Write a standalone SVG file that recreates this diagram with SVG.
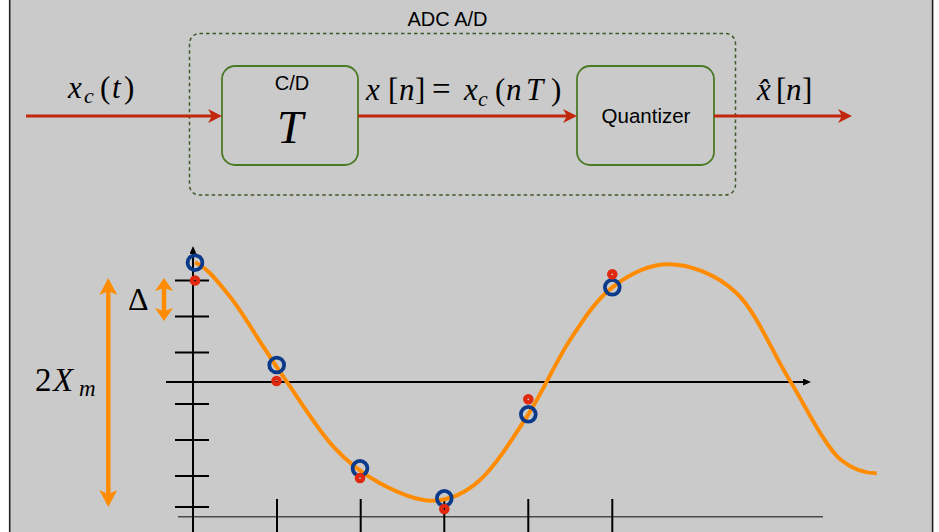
<svg xmlns="http://www.w3.org/2000/svg" width="939" height="532" viewBox="0 0 939 532">
<style>
.sans{font-family:"Liberation Sans",Arial,sans-serif;fill:#000}
.m{font-family:"Liberation Serif","DejaVu Serif",serif;fill:#000}
.i{font-style:italic}
.box{fill:none;stroke:#4a7a25;stroke-width:1.8}
.wire{stroke:#c2260c;stroke-width:3;fill:none}
.tick{stroke:#000;stroke-width:2;fill:none}
.blue{fill:none;stroke:#0b3a8a;stroke-width:3.8}
.red{fill:none;stroke:#e0280f;stroke-width:4.4}
.org{stroke:#ff8c00;stroke-width:4.5;fill:none}
</style>
<defs>
<marker id="ra" viewBox="0 0 14 14" refX="4" refY="7" markerWidth="14" markerHeight="14" markerUnits="userSpaceOnUse" orient="auto"><path d="M0,0 L14,7 L0,14 L4,7 Z" fill="#c2260c"/></marker>
<marker id="ka" viewBox="0 0 8 7" refX="2" refY="3.5" markerWidth="8" markerHeight="7" markerUnits="userSpaceOnUse" orient="auto"><path d="M0,0 L8,3.5 L0,7 Z" fill="#000"/></marker>
<marker id="oa" viewBox="0 0 17 18" refX="4" refY="9" markerWidth="17" markerHeight="18" markerUnits="userSpaceOnUse" orient="auto-start-reverse"><path d="M0,0 L17,9 L0,18 L4,9 Z" fill="#ff8c00"/></marker>
<marker id="ob" viewBox="0 0 13 18" refX="3" refY="9" markerWidth="13" markerHeight="18" markerUnits="userSpaceOnUse" orient="auto-start-reverse"><path d="M0,0 L13,9 L0,18 L3,9 Z" fill="#ff8c00"/></marker>
</defs>
<rect x="9.5" y="-2" width="923" height="536" fill="#cacaca"/>
<line x1="9.7" y1="0" x2="9.7" y2="532" stroke="#222" stroke-width="1.6"/>
<line x1="932.6" y1="0" x2="932.6" y2="532" stroke="#222" stroke-width="1.6"/>

<g id="adc">
<rect x="189.5" y="33.5" width="546" height="161.5" rx="10" fill="none" stroke="#3f5a28" stroke-width="1.5" stroke-dasharray="3.5,3"/>
<text class="sans" x="447.5" y="26" font-size="20" text-anchor="middle">ADC A/D</text>
</g>
<g id="cd">
<rect class="box" x="222" y="66" width="136" height="99" rx="13"/>
<text class="sans" x="292" y="90" font-size="20" text-anchor="middle">C/D</text>
<text class="m i" x="290" y="143" font-size="47" text-anchor="middle">T</text>
</g>
<g id="quantizer">
<rect class="box" x="577" y="66" width="137" height="99" rx="13"/>
<text class="sans" x="646" y="123" font-size="20.5" text-anchor="middle">Quantizer</text>
</g>

<g id="connectors">
<line class="wire" x1="26" y1="116" x2="212" y2="116" marker-end="url(#ra)"/>
<line class="wire" x1="358" y1="116" x2="567" y2="116" marker-end="url(#ra)"/>
<line class="wire" x1="714" y1="116" x2="842" y2="116" marker-end="url(#ra)"/>
</g>

<g id="labels">
<text class="m" y="98" font-size="31"><tspan x="68" class="i">x</tspan><tspan x="84" dy="5" font-size="22" class="i">c</tspan><tspan x="100" dy="-5">(</tspan><tspan x="112" class="i">t</tspan><tspan x="124">)</tspan></text>
<text class="m" y="100" font-size="31"><tspan x="366" class="i">x</tspan><tspan x="388">[</tspan><tspan x="399" class="i">n</tspan><tspan x="415">]</tspan><tspan x="432" font-size="33">=</tspan><tspan x="464" class="i">x</tspan><tspan x="478" dy="6" font-size="22" class="i">c</tspan><tspan x="495" dy="-6">(</tspan><tspan x="506" class="i">n</tspan><tspan x="526" class="i">T</tspan><tspan x="551">)</tspan></text>
<text class="m" y="100" font-size="31"><tspan x="757" class="i">x̂</tspan><tspan x="776">[</tspan><tspan x="786" class="i">n</tspan><tspan x="802">]</tspan></text>
</g>

<g id="plot">
<line x1="178" y1="516.7" x2="823" y2="516.7" stroke="#4a4a4a" stroke-width="1.4"/>
<line class="tick" x1="193" y1="532" x2="193" y2="252" marker-end="url(#ka)"/>
<line x1="166" y1="382" x2="805" y2="382" stroke="#000" stroke-width="1.8" marker-end="url(#ka)"/>
<path class="tick" d="M175,280.5H209M175,316.5H209M175,352.5H209M175,404H209M175,440H209M175,476H209M175,507H209"/>
<path class="tick" d="M277,499V532M360.7,499V532M444.3,499V532M528.3,499V532M612.3,499V532"/>
<path d="M195,262.5 C207,267 218.6,282.7 230,296.7 C241.4,310.7 253.85,332.5 263.3,346.7 C272.75,360.9 275,365 286.7,381.7 C298.4,398.4 317.75,429.8 333.3,446.7 C348.85,463.6 363.3,474.3 380,483.3 C396.7,492.3 416.6,501.25 433.3,500.7 C450,500.15 464.2,494.4 480,480 C495.8,465.6 513.3,437.6 528.3,414.3 C543.3,391 556,361.2 570,340 C584,318.8 595.9,299.9 612.3,287.3 C628.7,274.7 647.6,264.3 668.3,264.3 C689,264.3 716.3,273.7 736.7,293.3 C757.1,312.9 772.9,353.7 790.7,382 C806,407 826,448 841,460 C853,469.5 865,473.3 876.7,473.3" fill="none" stroke="#ff8c00" stroke-width="4"/>
<g>
<circle class="blue" cx="195" cy="262.7" r="7.4"/>
<circle class="blue" cx="276.7" cy="365" r="7.4"/>
<circle class="blue" cx="360" cy="468.3" r="7.4"/>
<circle class="blue" cx="444.3" cy="498.3" r="7.4"/>
<circle class="blue" cx="528.3" cy="414.3" r="7.4"/>
<circle class="blue" cx="612.3" cy="287.3" r="7.4"/>
</g>
<g>
<circle class="red" cx="195" cy="280.5" r="3.1"/>
<circle class="red" cx="276.5" cy="381" r="3.1"/>
<circle class="red" cx="360" cy="478" r="3.1"/>
<circle class="red" cx="444.3" cy="509" r="3.1"/>
<circle class="red" cx="528.3" cy="399.3" r="3.1"/>
<circle class="red" cx="612.3" cy="274.3" r="3.1"/>
</g>
<line class="org" x1="108.3" y1="291" x2="108.3" y2="494" marker-start="url(#oa)" marker-end="url(#oa)"/>
<line class="org" x1="164" y1="288" x2="164" y2="311" marker-start="url(#ob)" marker-end="url(#ob)"/>
<text class="m" x="128" y="310" font-size="32">Δ</text>
<text class="m" y="391" font-size="33"><tspan x="35">2</tspan><tspan x="53" class="i">X</tspan><tspan x="79" dy="5" class="i" font-size="23">m</tspan></text>
</g>
</svg>
